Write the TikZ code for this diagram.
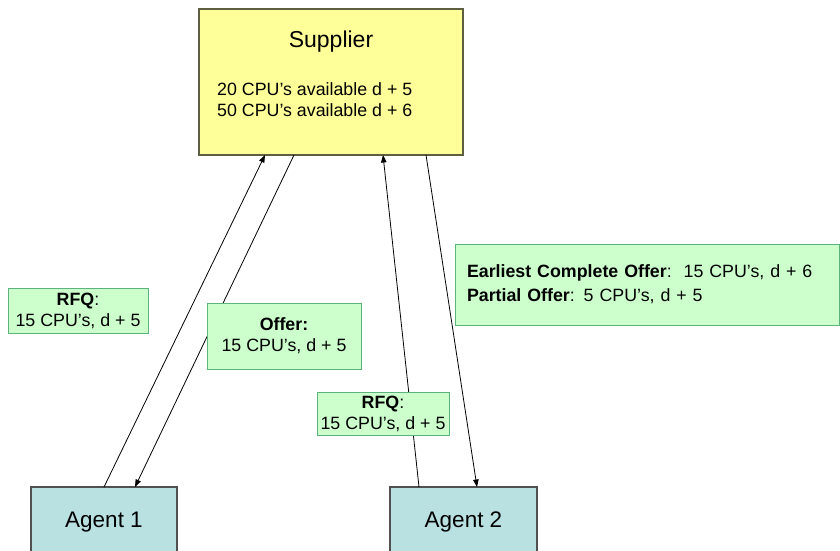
\documentclass[tikz,border=0pt]{standalone}
\usepackage{fontspec}
\setmainfont{Liberation Sans}
\usetikzlibrary{arrows.meta}
\definecolor{supfill}{HTML}{FFFF99}
\definecolor{supline}{HTML}{5E5E40}
\definecolor{agfill}{HTML}{B9E1E1}
\definecolor{agline}{HTML}{505050}
\definecolor{lblfill}{HTML}{CCFFCC}
\definecolor{lblline}{HTML}{5BB47C}
\begin{document}
\begin{tikzpicture}[x=1pt,y=-1pt,
  body/.style={font=\fontsize{17.8}{21}\selectfont},
  supbox/.style={draw=supline, line width=1.2pt, fill=supfill, inner sep=0pt, outer sep=0pt},
  agentbox/.style={draw=agline, line width=1.1pt, fill=agfill, inner sep=0pt, outer sep=0pt, font=\fontsize{22.5}{27}\selectfont},
  lbl/.style={draw=lblline, line width=1pt, fill=lblfill, inner sep=0pt, outer sep=0pt, align=center, body},
  arr/.style={draw=black, line width=0.8pt, -{Triangle[length=7.5pt,width=5.5pt]}}
]
\useasboundingbox (0,0) rectangle (840,550);

% supplier
\node[supbox, minimum width=264pt, minimum height=146pt] (sup) at (331,82) {};
\node[font=\fontsize{23}{27}\selectfont] (suptitle) at (331,42) {Supplier};
\node[body, anchor=west, align=left, inner sep=0pt] (supavail) at (217,100) {20 CPU’s available d + 5\\50 CPU’s available d + 6};

% agents
\node[agentbox, minimum width=146pt, minimum height=70pt] (a1) at (104,522) {Agent 1};
\node[agentbox, minimum width=147pt, minimum height=70pt] (a2) at (463.5,522) {Agent 2};

% connectors
\draw[arr] ([xshift=73pt]a1.north west) -- ([xshift=66pt]sup.south west);
\draw[arr] ([xshift=95pt]sup.south west) -- ([xshift=104pt]a1.north west);
\draw[arr] ([xshift=29pt]a2.north west) -- ([xshift=184pt]sup.south west);
\draw[arr] ([xshift=227pt]sup.south west) -- ([xshift=87pt]a2.north west);

% labels
\node[lbl, minimum width=140pt, minimum height=45pt] (rfq1) at (78,310.5) {\textbf{RFQ}:\\15 CPU’s, d + 5};
\node[lbl, minimum width=154pt, minimum height=66pt] (offer) at (284,336) {\textbf{Offer:}\\15 CPU’s, d + 5};
\node[lbl, minimum width=132pt, minimum height=43pt] (rfq2) at (383,413.5) {\textbf{RFQ}:\\15 CPU’s, d + 5};
\node[lbl, align=left, text width=360pt, inner xsep=12pt, minimum height=81pt] (big) at (647,284.5)
  {\textbf{Earliest Complete Offer}:\ \ 15 CPU’s, d + 6\\[3pt]\textbf{Partial Offer}: 5 CPU’s, d + 5};
\end{tikzpicture}
\end{document}
